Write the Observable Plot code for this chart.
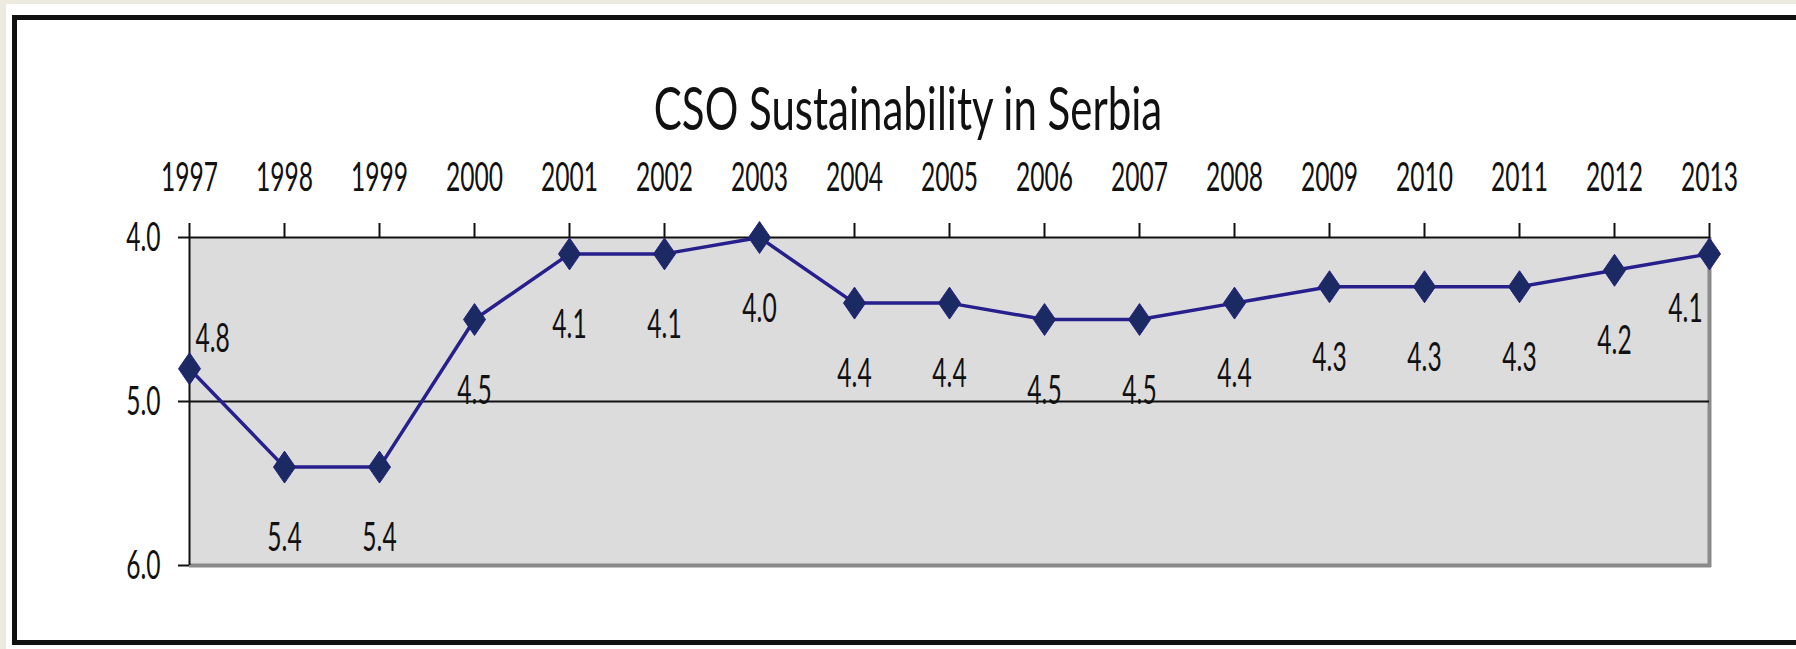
<!DOCTYPE html>
<html>
<head>
<meta charset="utf-8">
<script src="https://cdn.jsdelivr.net/npm/d3@7"></script>
<script src="https://cdn.jsdelivr.net/npm/@observablehq/plot@0.6"></script>
<style>
  html, body { margin: 0; padding: 0; }
  body { width: 1796px; height: 649px; overflow: hidden; background: #ffffff; position: relative; font-family: Lato, "Open Sans", sans-serif; }
  #stripTop { position: absolute; left: 0; top: 0; width: 1796px; height: 4px; background: #edebe0; }
  #stripLeft { position: absolute; left: 0; top: 0; width: 6px; height: 649px; background: #edebe0; }
  #box { position: absolute; left: 12px; top: 15px; width: 1800px; height: 630px; box-sizing: border-box; border: 5px solid #111; }
  #title { position: absolute; left: 908px; top: 77px; font-size: 60px; line-height: 1; white-space: nowrap; color: #111;
           transform: translateX(-50%) scaleX(0.7); transform-origin: center; }
  #chart { position: absolute; left: 0; top: 0; }
</style>
</head>
<body>
<div id="stripTop"></div>
<div id="stripLeft"></div>
<div id="box"></div>
<div id="chart"></div>
<div id="title">CSO Sustainability in Serbia</div>
<script>
const years  = [1997, 1998, 1999, 2000, 2001, 2002, 2003, 2004, 2005, 2006, 2007, 2008, 2009, 2010, 2011, 2012, 2013];
const scores = [4.8, 5.4, 5.4, 4.5, 4.1, 4.1, 4.0, 4.4, 4.4, 4.5, 4.5, 4.4, 4.3, 4.3, 4.3, 4.2, 4.1];
const yTicks = [4, 5, 6];

const rows = years.map((year, i) => ({year, score: scores[i]}));
const firstRow = rows.slice(0, 1);
const lastRow = rows.slice(-1);
const midRows = rows.slice(1, -1);

const SX = 0.6;
const FONT = 41;
const lineColor = "#261f8c";
const markerFill = "#1b2a63";

// tall diamond symbol
const tallDiamond = {
  draw(context, size) {
    const r = Math.sqrt(size / Math.PI);
    const h = r * 1.45;
    context.moveTo(0, -h);
    context.lineTo(r, 0);
    context.lineTo(0, h);
    context.lineTo(-r, 0);
    context.closePath();
  }
};

const fmt = d => d.score.toFixed(1);

const plot = Plot.plot({
  width: 1796,
  height: 649,
  marginLeft: 189,
  marginRight: 87,
  marginTop: 237,
  marginBottom: 84,
  style: {background: "transparent", fontFamily: "Lato, 'Open Sans', sans-serif", color: "#111"},
  x: {domain: [1997, 2013]},
  y: {domain: [4, 6], reverse: true},
  marks: [
    Plot.frame({fill: "#dcdcdc"}),
    Plot.ruleX([2013], {y1: 4, y2: 6, stroke: "#8a8a8a", strokeWidth: 4, insetBottom: -2}),
    Plot.ruleY([6], {x1: 1997, x2: 2013, stroke: "#8a8a8a", strokeWidth: 4, insetRight: -2}),
    Plot.ruleY([5], {stroke: "#111", strokeWidth: 2}),
    Plot.ruleY([4], {stroke: "#111", strokeWidth: 2}),
    Plot.ruleX([1997], {stroke: "#111", strokeWidth: 2}),
    Plot.axisX({anchor: "top", ticks: years, tickFormat: d => String(d), tickSize: 15, tickPadding: 32,
                fontSize: FONT, strokeWidth: 2, stroke: "#111", fill: "#111", label: null}),
    Plot.axisY({anchor: "left", ticks: yTicks, tickFormat: d => d.toFixed(1), tickSize: 11, tickPadding: 18,
                fontSize: FONT, strokeWidth: 2, stroke: "#111", fill: "#111", label: null}),
    Plot.line(rows, {x: "year", y: "score", stroke: lineColor, strokeWidth: 3.5}),
    Plot.dot(rows, {x: "year", y: "score", symbol: tallDiamond, r: 11, fill: markerFill, stroke: "#231f80", strokeWidth: 1}),
    Plot.text(midRows, {x: "year", y: "score", text: fmt, dy: 71, fontSize: FONT, fill: "#111"}),
    Plot.text(firstRow, {x: "year", y: "score", text: fmt, dx: 6, dy: -30, textAnchor: "start", fontSize: FONT, fill: "#111"}),
    Plot.text(lastRow, {x: "year", y: "score", text: fmt, dx: -24, dy: 55, fontSize: FONT, fill: "#111"})
  ]
});

// condense all text horizontally around its anchor point (positions are set by transform)
plot.querySelectorAll("text").forEach(t => {
  const tr = t.getAttribute("transform") || "";
  t.setAttribute("transform", `${tr} scale(${SX},1)`);
});

document.getElementById("chart").appendChild(plot);
</script>
</body>
</html>
